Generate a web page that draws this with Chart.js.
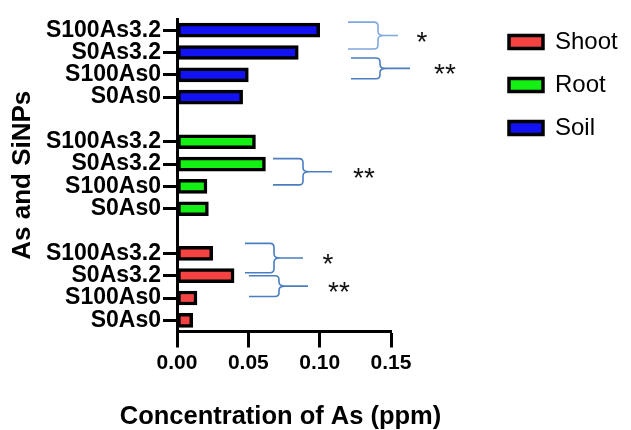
<!DOCTYPE html>
<html>
<head>
<meta charset="utf-8">
<script src="https://cdn.jsdelivr.net/npm/chart.js@4/dist/chart.umd.min.js"></script>
<style>
  html, body { margin: 0; padding: 0; background: #ffffff; }
  #wrap { width: 631px; height: 430px; position: relative; }
</style>
</head>
<body>
<div id="wrap"><canvas id="c"></canvas></div>
<script>
// ---- data ----
const treatments = ['S100As3.2', 'S0As3.2', 'S100As0', 'S0As0'];
const soilValues = [0.100, 0.085, 0.050, 0.046];
const rootValues = [0.055, 0.062, 0.021, 0.022];
const shootValues = [0.025, 0.040, 0.014, 0.011];
const xTicks = [0.00, 0.05, 0.10, 0.15];
const seriesNames = ['Shoot', 'Root', 'Soil'];
const seriesColors = ['#F54242', '#14F014', '#1212F2'];

// category rows: Soil group, gap, Root group, gap, Shoot group
const rowLabels = [...treatments, '', ...treatments, '', ...treatments];
const blank = [null, null, null, null];
const soilRow = [...soilValues, null, ...blank, null, ...blank];
const rootRow = [...blank, null, ...rootValues, null, ...blank];
const shootRow = [...blank, null, ...blank, null, ...shootValues];

// significance brackets (row indices on the category scale)
const brackets = [
  { from: 0, to: 1, dTop: -8, dBot: -3.5, left: 348, vx: 378, tip: 398, text: '*',  tx: 422, color: '#7FA8DC' },
  { from: 1, to: 2, dTop: 5.5, dBot: 4,  left: 351, vx: 380, tip: 410, text: '**', tx: 445, color: '#4A7EC0' },
  { from: 6, to: 7, dTop: -5.5, dBot: -1.5, left: 273, vx: 303, tip: 332, text: '**', tx: 364, color: '#4A7EC0' },
  { from: 10, to: 11, dTop: -10, dBot: -3, left: 245, vx: 274, tip: 303, text: '*',  tx: 328, color: '#4A7EC0' },
  { from: 11, to: 12, dTop: 0, dBot: -1.5, left: 249, vx: 279, tip: 308, text: '**', tx: 339, color: '#4A7EC0' }
];

const FONT = "'Liberation Sans', Arial, Helvetica, sans-serif";
Chart.defaults.font.family = FONT;
Chart.defaults.color = '#000';

const legendPlace = {
  id: 'legendPlace',
  beforeLayout(chart) {
    const lg = chart.legend;
    if (lg && !lg.__fixed) {
      const fit = lg.fit;
      lg.fit = function () { fit.call(this); this.width = 170; };
      lg.__fixed = true;
    }
  },
  afterLayout(chart) {
    const lg = chart.legend;
    if (!lg) return;
    const pad = lg.options.labels.padding;
    const w = lg.right - lg.left;
    const h = lg.bottom - lg.top;
    lg.left = 509 - pad; lg.right = lg.left + w + 80;
    lg.top = 30 - pad; lg.bottom = lg.top + h;
  }
};

const bracketPlugin = {
  id: 'brackets',
  afterDatasetsDraw(chart) {
    const ctx = chart.ctx;
    const ys = chart.scales.y;
    ctx.save();
    brackets.forEach(b => {
      const top = ys.getPixelForValue(b.from) + b.dTop;
      const bot = ys.getPixelForValue(b.to) + b.dBot;
      const mid = (top + bot) / 2;
      const r = 4;
      ctx.strokeStyle = b.color;
      ctx.lineWidth = 1.6;
      ctx.beginPath();
      ctx.moveTo(b.left, top);
      ctx.lineTo(b.vx - r, top);
      ctx.quadraticCurveTo(b.vx, top, b.vx, top + r);
      ctx.lineTo(b.vx, mid - r);
      ctx.quadraticCurveTo(b.vx, mid, b.vx + r + 2, mid);
      ctx.lineTo(b.tip, mid);
      ctx.moveTo(b.vx + r + 2, mid);
      ctx.quadraticCurveTo(b.vx, mid, b.vx, mid + r);
      ctx.lineTo(b.vx, bot - r);
      ctx.quadraticCurveTo(b.vx, bot, b.vx - r, bot);
      ctx.lineTo(b.left, bot);
      ctx.stroke();
      ctx.fillStyle = '#111';
      ctx.font = '28px ' + FONT;
      ctx.textAlign = 'center';
      ctx.textBaseline = 'alphabetic';
      ctx.fillText(b.text, b.tx, mid - 1 + 16);
    });
    ctx.restore();
  }
};

const datasets = [shootRow, rootRow, soilRow].map((d, i) => ({
  label: seriesNames[i],
  data: d,
  backgroundColor: seriesColors[i],
  borderColor: '#000',
  borderWidth: 3.5,
  borderSkipped: false,
  barThickness: 14,
  grouped: false
}));

new Chart(document.getElementById('c'), {
  type: 'bar',
  data: { labels: rowLabels, datasets },
  plugins: [legendPlace, bracketPlugin],
  options: {
    indexAxis: 'y',
    responsive: true,
    maintainAspectRatio: false,
    animation: false,
    layout: { padding: { top: 19, right: 70, bottom: 0, left: 0 } },
    plugins: {
      tooltip: { enabled: false },
      title: {
        display: true,
        position: 'bottom',
        fullSize: true,
        text: 'Concentration of As (ppm)',
        color: '#000',
        font: { family: FONT, size: 25.5, weight: 'bold', lineHeight: 1 },
        padding: 0
      },
      legend: {
        position: 'right',
        align: 'start',
        labels: {
          boxWidth: 34,
          boxHeight: 13,
          padding: 19,
          color: '#000',
          font: { family: FONT, size: 24, weight: 'normal' }
        }
      }
    },
    scales: {
      x: {
        type: 'linear',
        min: xTicks[0],
        max: xTicks[xTicks.length - 1],
        afterBuildTicks: s => { s.ticks = xTicks.map(v => ({ value: v })); },
        ticks: {
          callback: v => Number(v).toFixed(2),
          font: { family: FONT, size: 21, weight: 'bold' },
          color: '#000',
          padding: 3,
          maxRotation: 0
        },
        grid: { display: true, drawOnChartArea: false, drawTicks: true, tickLength: 16, tickWidth: 3, tickColor: '#000' },
        border: { display: true, color: '#000', width: 3 },
        afterFit: s => { s.height = 73; }
      },
      y: {
        type: 'category',
        offset: true,
        ticks: {
          autoSkip: false,
          font: { family: FONT, size: 23, weight: 'bold' },
          color: '#000',
          padding: 2
        },
        grid: {
          offset: false,
          drawOnChartArea: false,
          drawTicks: true,
          tickLength: 14,
          tickWidth: 3,
          tickColor: c => (rowLabels[c.index] ? '#000' : 'rgba(0,0,0,0)')
        },
        border: { display: true, color: '#000', width: 3 },
        title: {
          display: true,
          text: 'As and SiNPs',
          color: '#000',
          font: { family: FONT, size: 26, weight: 'bold', lineHeight: 1 },
          padding: { top: 10, bottom: 0 }
        },
        afterFit: s => { s.width = 177; }
      }
    }
  }
});
</script>
</body>
</html>
